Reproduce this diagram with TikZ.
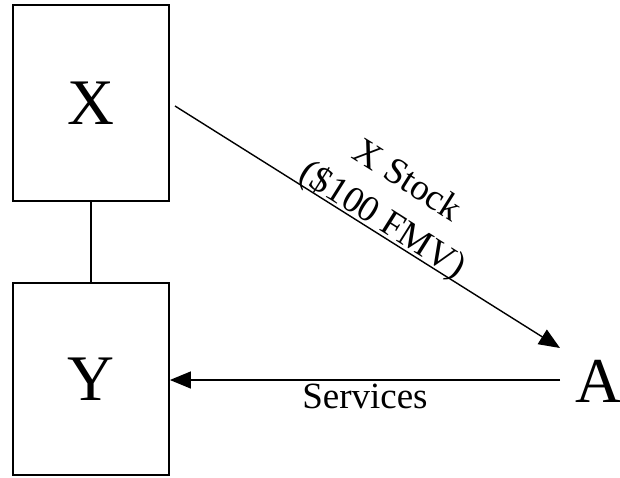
\documentclass[tikz,border=0pt]{standalone}
\usepackage{fontspec}
\setmainfont{Liberation Serif}
\usetikzlibrary{arrows.meta,calc}
\begin{document}
\begin{tikzpicture}[x=1pt,y=-1pt,
  box/.style={draw,line width=1.8pt,minimum width=156pt,inner sep=0pt,font=\fontsize{65}{70}\selectfont},
  big/.style={font=\fontsize{64}{70}\selectfont},
  lbl/.style={font=\fontsize{37}{46}\selectfont},
  arr/.style={line width=1.4pt,-{Triangle[length=21pt,width=17pt]}},
  link/.style={line width=1.4pt}]
\useasboundingbox (0,0) rectangle (620,477);
\node[box,minimum height=196pt] (X) at (91,103) {X};
\node[box,minimum height=192pt] (Y) at (91,379) {Y};
\node[big,inner sep=0pt,anchor=center] (A) at (599,381) {A};
\coordinate (xs) at (175,106);
\coordinate (ae) at (560,348);
\coordinate (ss) at (560,380);
\draw[link] (X.south) -- (Y.north);
\draw[arr] (xs) -- node[pos=0.52,sloped,anchor=south,inner sep=0pt,yshift=-5pt,lbl,align=center]{X Stock\\(\$100 FMV)} (ae);
\draw[arr] (ss) -- node[midway,below,inner sep=3pt,lbl]{Services} (ss -| Y.east);
\end{tikzpicture}
\end{document}
